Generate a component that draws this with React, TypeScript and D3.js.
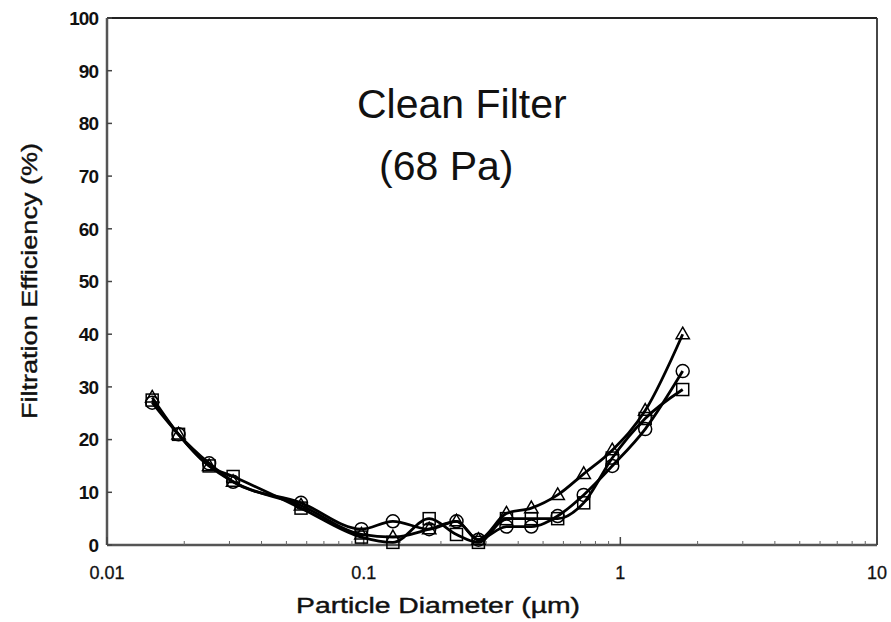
import React from "react";
import * as d3 from "d3";

const diameters = [0.015, 0.019, 0.025, 0.031, 0.057, 0.098, 0.13, 0.18, 0.23, 0.28, 0.36, 0.45, 0.57, 0.72, 0.93, 1.25, 1.75];
const triangleSeries = [28, 21, 15, 12, 7.5, 2, 1.5, 3, 4.5, 1, 6, 7, 9.5, 13.5, 18, 25.5, 40];
const circleSeries = [27, 21, 15.5, 12, 8, 3, 4.5, 3, 4.5, 1, 3.5, 3.5, 5.5, 9.5, 15, 22, 33];
const squareSeries = [27.5, 21, 15, 13, 7, 1.5, 0.5, 5, 2, 0.5, 5, 5, 5, 8, 16.5, 24, 29.5];
const yTicks = [0, 10, 20, 30, 40, 50, 60, 70, 80, 90, 100];
const xMajorTicks = [0.01, 0.1, 1, 10];
const xTickLabels = ["0.01", "0.1", "1", "10"];

const W = 891, H = 622;
const L = 107, R = 877, T = 18, B = 545;
const FONT = "'Liberation Sans', Arial, Helvetica, sans-serif";

export default function App() {
  const x = d3.scaleLog().domain([0.01, 10]).range([L, R]);
  const y = d3.scaleLinear().domain([0, 100]).range([B, T]);
  const line = d3.line<number>()
    .x((_, i) => x(diameters[i]))
    .y((v) => y(v))
    .curve(d3.curveMonotoneX);

  const minor: number[] = [];
  [0.01, 0.1, 1].forEach((dec) => {
    for (let k = 2; k <= 9; k++) minor.push(dec * k);
  });

  const tri = (cx: number, cy: number, s: number) =>
    `M${cx},${cy - s}L${cx + s * 0.95},${cy + s * 0.65}L${cx - s * 0.95},${cy + s * 0.65}Z`;

  return (
    <svg width={W} height={H} style={{ position: "absolute", left: 0, top: 0, background: "#fff" }} fontFamily={FONT}>
      <rect x={0} y={0} width={W} height={H} fill="#fff" />
      {/* frame */}
      <line x1={L} y1={T} x2={R} y2={T} stroke="#222" strokeWidth={1.8} />
      <line x1={R} y1={T} x2={R} y2={B} stroke="#333" strokeWidth={1.8} />
      <line x1={L} y1={T} x2={L} y2={B} stroke="#555" strokeWidth={2.5} />
      <line x1={L} y1={B} x2={R} y2={B} stroke="#555" strokeWidth={2.5} />
      {/* y ticks */}
      {yTicks.map((t) => (
        <g key={"y" + t}>
          <line x1={L} x2={L + 5} y1={y(t)} y2={y(t)} stroke="#444" strokeWidth={1.5} />
          <text x={L - 9} y={y(t)} dy="0.36em" textAnchor="end" fontSize={19} fontWeight="bold" letterSpacing={-1} fill="#111">{t}</text>
        </g>
      ))}
      {/* x ticks */}
      {xMajorTicks.map((t, i) => (
        <g key={"x" + t}>
          <line x1={x(t)} x2={x(t)} y1={B} y2={B - 8} stroke="#444" strokeWidth={1.5} />
          <text x={x(t)} y={579} textAnchor="middle" fontSize={18} fill="#111" stroke="#111" strokeWidth={0.3}>{xTickLabels[i]}</text>
        </g>
      ))}
      {minor.map((t) => (
        <line key={"m" + t} x1={x(t)} x2={x(t)} y1={B} y2={B - 4} stroke="#666" strokeWidth={1} />
      ))}
      {/* axis titles */}
      <text x={296} y={613} fontSize={22} fill="#111" stroke="#111" strokeWidth={0.4} textLength={284} lengthAdjust="spacingAndGlyphs">Particle Diameter  (µm)</text>
      <text transform={`translate(37,281) rotate(-90)`} textAnchor="middle" fontSize={22} fill="#111" stroke="#111" strokeWidth={0.4} textLength={276} lengthAdjust="spacingAndGlyphs">Filtration Efficiency (%)</text>
      {/* annotation */}
      <text x={357} y={118} fontSize={41} fill="#111">Clean Filter</text>
      <text x={379} y={180} fontSize={41} fill="#111">(68 Pa)</text>
      {/* series lines */}
      {[triangleSeries, circleSeries, squareSeries].map((s, i) => (
        <path key={"l" + i} d={line(s) || ""} fill="none" stroke="#000" strokeWidth={2.8} />
      ))}
      {/* markers */}
      {triangleSeries.map((v, i) => (
        <path key={"t" + i} d={tri(x(diameters[i]), y(v), 7)} fill="none" stroke="#000" strokeWidth={1.5} />
      ))}
      {circleSeries.map((v, i) => (
        <circle key={"c" + i} cx={x(diameters[i])} cy={y(v)} r={6.5} fill="none" stroke="#000" strokeWidth={1.5} />
      ))}
      {squareSeries.map((v, i) => (
        <rect key={"s" + i} x={x(diameters[i]) - 6} y={y(v) - 6} width={12} height={12} fill="none" stroke="#000" strokeWidth={1.5} />
      ))}
    </svg>
  );
}
